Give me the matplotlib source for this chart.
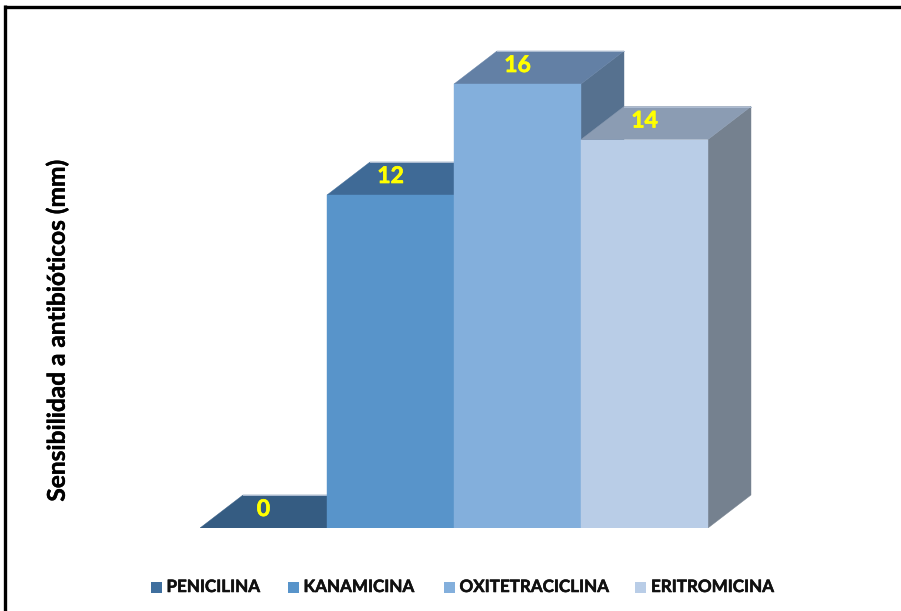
import matplotlib
matplotlib.use('Agg')
import matplotlib.pyplot as plt
import matplotlib.patheffects as pe
from matplotlib.patches import Polygon, Rectangle

categorias = ['PENICILINA', 'KANAMICINA', 'OXITETRACICLINA', 'ERITROMICINA']
valores = [0, 12, 16, 14]
color_frente = ['#3F6F9E', '#5894CA', '#83AFDC', '#B9CDE7']
color_techo = ['#355C82', '#3F6A96', '#6380A5', '#8B9CB3']
color_lado = ['#2F5272', '#3F6A96', '#56718F', '#75818F']

W, H = 901, 611
px_cat = 127.0
px_val = 27.75
px_dx, px_dy = 43.0, 33.0

plt.rcParams['font.family'] = ['Lato', 'DejaVu Sans']
fig = plt.figure(figsize=(W / 100, H / 100), dpi=100)

# ejes colocados en pixeles de la imagen
left, base, right, top = 200, 528, 760, 40
ax = fig.add_axes([left / W, (H - base) / H, (right - left) / W, (base - top) / H])
ax.set_xlim(-0.5, -0.5 + (right - left) / px_cat)
ax.set_ylim(0, (base - top) / px_val)
ax.axis('off')

dx = px_dx / px_cat
dy = px_dy / px_val
borde = '#AEBDD2'


def grueso(color, ancho):
    return [pe.withStroke(linewidth=ancho, foreground=color)]


for i, v in enumerate(valores):
    x0, x1 = i - 0.5, i + 0.5
    if v > 0:
        ax.add_patch(Polygon([(x1, 0), (x1 + dx, dy), (x1 + dx, v + dy), (x1, v)],
                             facecolor=color_lado[i], edgecolor=color_lado[i], linewidth=0.3,
                             zorder=1 + i * 2))
    ax.add_patch(Polygon([(x0, v), (x1, v), (x1 + dx, v + dy), (x0 + dx, v + dy)],
                         facecolor=color_techo[i], edgecolor=color_techo[i], linewidth=0.3,
                         zorder=1 + i * 2))
    # borde claro arriba del techo
    ax.plot([x0 + dx, x1 + dx], [v + dy, v + dy], color=borde, linewidth=0.7, zorder=1 + i * 2)
    if v > 0:
        ax.add_patch(Rectangle((x0, 0), 1, v, facecolor=color_frente[i],
                               edgecolor=color_frente[i], linewidth=0.3, zorder=2 + i * 2))
    ax.text(i, v + 18.5 / px_val, str(v), color='#FFFF00', fontsize=16.5, fontweight='bold',
            ha='center', va='center', zorder=20, path_effects=grueso('#FFFF00', 0.5))

# marco negro: solo arriba e izquierda
fig.add_artist(plt.Line2D([5 / W, 5 / W], [0, 1 - 5 / H], color='black', linewidth=2.4,
                          solid_capstyle='butt'))
fig.add_artist(plt.Line2D([3.5 / W, 1], [1 - 6.5 / H, 1 - 6.5 / H], color='black', linewidth=2.4,
                          solid_capstyle='butt'))

fig.text(57 / W, 1 - 331 / H, 'Sensibilidad a antibióticos (mm)', rotation=90, fontsize=17.6,
         fontweight='bold', ha='center', va='center', color='black',
         path_effects=grueso('black', 0.3))

x_cuadro = [150.5, 287.5, 443.5, 635]
for x, nombre, c in zip(x_cuadro, categorias, color_frente):
    fig.add_artist(Rectangle((x / W, 1 - 592.5 / H), 11 / W, 11 / H, transform=fig.transFigure,
                             facecolor=c, edgecolor='none'))
    fig.text((x + 16) / W, 1 - 587 / H, nombre, fontsize=12.25, fontweight='bold',
             ha='left', va='center', color='#111111', path_effects=grueso('#111111', 0.4))

fig.savefig('out.png', dpi=100)
